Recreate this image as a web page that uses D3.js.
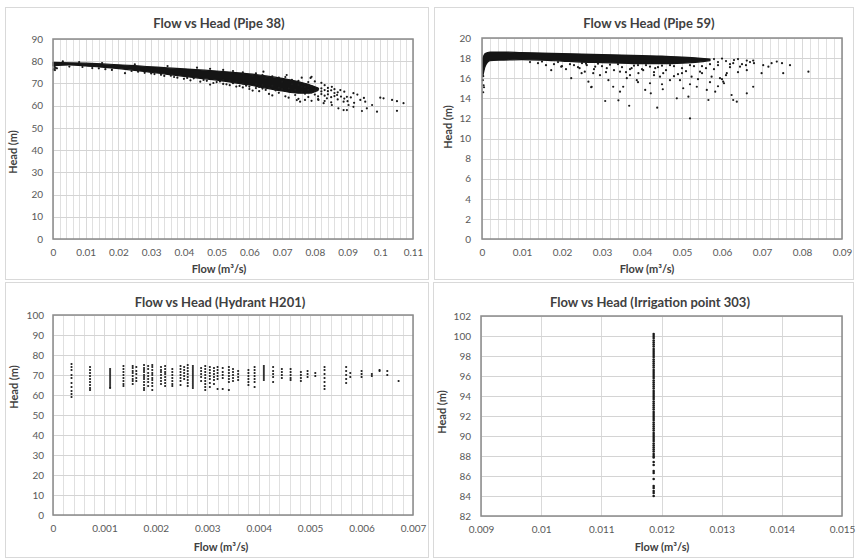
<!DOCTYPE html>
<html>
<head>
<meta charset="utf-8">
<script src="https://cdn.jsdelivr.net/npm/d3@7"></script>
<style>
  html, body { margin: 0; padding: 0; background: #fff; }
  svg { display: block; font-family: Lato, "Open Sans", sans-serif; }
</style>
</head>
<body>
<svg id="chart" width="856" height="559"></svg>
<script>
// ---------------- DATA ----------------
const titles = ["Flow vs Head (Pipe 38)", "Flow vs Head (Pipe 59)", "Flow vs Head (Hydrant H201)", "Flow vs Head (Irrigation point 303)"];
const xAxisTitle = "Flow (m³/s)";
const yAxisTitle = "Head (m)";

// tick values / labels
const pipe38XTicks = [0, 0.01, 0.02, 0.03, 0.04, 0.05, 0.06, 0.07, 0.08, 0.09, 0.1, 0.11];
const pipe38XLabels = ["0", "0.01", "0.02", "0.03", "0.04", "0.05", "0.06", "0.07", "0.08", "0.09", "0.1", "0.11"];
const pipe38YTicks = [0, 10, 20, 30, 40, 50, 60, 70, 80, 90];
const pipe59XTicks = [0, 0.01, 0.02, 0.03, 0.04, 0.05, 0.06, 0.07, 0.08, 0.09];
const pipe59XLabels = ["0", "0.01", "0.02", "0.03", "0.04", "0.05", "0.06", "0.07", "0.08", "0.09"];
const pipe59YTicks = [0, 2, 4, 6, 8, 10, 12, 14, 16, 18, 20];
const hydrantXTicks = [0, 0.001, 0.002, 0.003, 0.004, 0.005, 0.006, 0.007];
const hydrantXLabels = ["0", "0.001", "0.002", "0.003", "0.004", "0.005", "0.006", "0.007"];
const hydrantYTicks = [0, 10, 20, 30, 40, 50, 60, 70, 80, 90, 100];
const irrigXTicks = [0.009, 0.010, 0.011, 0.012, 0.013, 0.014, 0.015];
const irrigXLabels = ["0.009", "0.01", "0.011", "0.012", "0.013", "0.014", "0.015"];
const irrigYTicks = [82, 84, 86, 88, 90, 92, 94, 96, 98, 100, 102];

// Pipe 38: dense core of the cloud (flow, upper head, lower head)
const pipe38CoreFlow  = [0, 0.005, 0.01, 0.015, 0.02, 0.025, 0.03, 0.035, 0.04, 0.045, 0.05, 0.055, 0.06, 0.065, 0.07, 0.075, 0.078, 0.081];
const pipe38CoreUpper = [79.5, 79.3, 79.1, 78.8, 78.4, 78.0, 77.5, 77.0, 76.6, 76.1, 75.6, 75.0, 74.3, 73.4, 72.3, 70.8, 69.6, 67.9];
const pipe38CoreLower = [78.0, 78.3, 77.9, 77.3, 76.7, 75.9, 75.0, 74.1, 73.2, 72.3, 71.5, 70.4, 69.3, 67.9, 66.6, 65.6, 65.6, 66.9];
// Pipe 38: scattered points [flow, head]
const pipe38Points = [
  [0.0003,76.5],[0.0008,77.0],[0.0012,76.8],[0.0005,77.5],[0.0002,76.2],[0.0006,76.0],
  [0.003,79.9],[0.008,79.6],[0.015,79.2],[0.025,78.6],[0.035,77.8],
  [0.005,77.6],[0.009,77.4],[0.012,76.9],[0.014,76.8],[0.016,76.4],[0.018,76.1],[0.022,74.6],[0.024,75.6],
  [0.026,75.3],[0.028,74.8],[0.03,74.5],[0.031,74.2],[0.033,73.9],[0.034,73.4],[0.036,73.5],[0.037,72.9],
  [0.038,72.6],[0.04,72.1],[0.041,72.5],[0.042,71.4],[0.043,72.3],[0.045,70.8],[0.046,71.6],[0.047,71.2],
  [0.048,69.5],[0.049,70.2],[0.05,70.6],[0.051,70.9],[0.052,69.8],[0.053,69.6],[0.054,69.2],[0.055,70.1],
  [0.056,68.6],[0.057,68.9],[0.058,68.2],[0.059,69.0],[0.06,67.5],[0.061,66.8],[0.062,67.9],[0.063,66.5],
  [0.064,67.7],[0.066,65.3],[0.067,64.6],[0.069,65.8],[0.071,64.2],[0.072,63.6],[0.074,64.8],[0.075,63.1],
  [0.077,62.6],[0.078,63.9],[0.079,62.2],[0.081,62.9],[0.083,62.1],[0.085,61.5],
  [0.044,77.1],[0.048,76.6],[0.052,76.1],[0.055,75.6],[0.058,75.0],[0.062,74.5],[0.0643,75.3],[0.064,73.8],
  [0.067,73.2],[0.069,72.6],[0.071,72.9],[0.0714,73.8],[0.073,71.6],[0.075,71.2],[0.076,72.6],[0.078,70.6],
  [0.0787,72.5],[0.079,73.0],[0.08,70.9],[0.082,70.3],[0.083,69.2],
  [0.0745,62.5],[0.0755,61.8],[0.0811,62.6],[0.0827,61.1],[0.0837,63.3],[0.0852,68.5],[0.0852,60.3],
  [0.0868,64.8],[0.0872,58.8],[0.0878,67.0],[0.0888,58.0],[0.0888,61.8],[0.0898,64.0],[0.0898,58.0],
  [0.0903,60.3],[0.0918,65.6],[0.0918,59.5],[0.093,65.0],[0.0939,62.6],[0.0944,57.6],[0.095,63.5],
  [0.0954,61.8],[0.0959,58.8],[0.0975,60.3],[0.099,57.3],[0.1,63.6],[0.101,63.3],[0.1036,62.6],
  [0.1051,57.7],[0.1051,62.0],[0.1071,61.1],[0.084,66.5],[0.086,65.7],[0.082,67.8],[0.08,66.9],
  [0.077,68.3],[0.073,69.6],[0.07,70.8],[0.065,72.5],[0.061,73.4],
  [0.076,66.2],[0.077,65.4],[0.078,67.1],[0.079,66.0],[0.079,68.6],[0.08,65.0],[0.081,67.6],[0.081,64.2],
  [0.082,66.4],[0.082,65.2],[0.083,67.0],[0.083,64.5],[0.084,65.1],[0.084,68.0],[0.085,63.8],[0.085,66.9],
  [0.086,64.3],[0.086,67.4],[0.087,66.0],[0.087,62.8],[0.088,64.1],[0.089,66.3],[0.089,63.2],[0.09,62.0],
  [0.091,63.7],[0.092,61.3],[0.075,69.3],[0.076,68.6],[0.077,69.7],[0.078,68.9],[0.074,67.0],[0.073,66.3],
  [0.072,67.8],[0.071,66.6],[0.07,67.4],[0.069,68.1],[0.068,66.9],[0.067,69.0],[0.066,68.0],[0.065,67.1],
  [0.064,69.3],[0.063,68.4],[0.062,69.6],[0.06,68.6],[0.058,70.0],[0.056,70.6],[0.054,71.3],[0.052,71.6]
];

// Pipe 59: dense core
const pipe59CoreFlow  = [0.0002, 0.0008, 0.002, 0.005, 0.01, 0.015, 0.02, 0.025, 0.03, 0.035, 0.04, 0.045, 0.05, 0.054, 0.057];
const pipe59CoreUpper = [18.0, 18.45, 18.6, 18.6, 18.55, 18.5, 18.45, 18.4, 18.35, 18.3, 18.25, 18.2, 18.1, 18.0, 17.9];
const pipe59CoreLower = [16.2, 17.2, 17.75, 17.8, 17.85, 17.8, 17.7, 17.6, 17.55, 17.5, 17.45, 17.45, 17.5, 17.6, 17.75];
// Pipe 59: scattered points
const pipe59Points = [
  [0.0003,14.6],[0.0004,15.3],[0.0002,15.8],[0.0005,15.1],[0.0003,16.2],
  [0.0308,13.73],[0.0341,13.8],[0.0368,13.26],[0.0438,13.07],[0.052,12.0],[0.0274,15.15],[0.0266,15.65],
  [0.0345,14.66],[0.0353,15.15],[0.0387,15.8],[0.0408,14.83],[0.0422,14.5],[0.0452,14.9],[0.0487,14.0],
  [0.0516,14.16],[0.0566,13.83],[0.0628,13.83],[0.0637,13.66],[0.0624,14.33],[0.0662,14.5],[0.0678,15.15],
  [0.0603,15.65],[0.0583,14.66],[0.0562,14.83],[0.0537,15.15],[0.0503,15.0],[0.047,15.8],[0.0445,16.15],
  [0.042,15.5],[0.0391,16.5],[0.0362,16.0],[0.0328,15.15],[0.0316,15.8],[0.0295,16.3],[0.0257,16.65],
  [0.0278,16.5],[0.0703,17.3],[0.0716,17.15],[0.0753,16.5],[0.077,17.3],[0.0816,16.65],[0.0724,17.5],
  [0.0678,17.75],[0.0699,16.5],[0.0662,16.8],[0.0645,17.15],[0.0612,16.5],[0.0595,16.0],[0.0574,16.15],
  [0.0545,16.65],[0.0524,16.15],[0.0495,15.8],[0.0453,16.5],[0.0433,17.0],[0.0403,16.8],[0.0374,17.0],
  [0.0345,16.65],[0.0312,17.0],[0.0283,17.15],[0.0262,17.3],[0.0249,16.5],[0.0737,17.65],[0.075,17.5],
  [0.0628,17.5],[0.0662,17.75],[0.0173,16.8],[0.0223,16.0],[0.0273,15.1],[0.0244,17.0],[0.0198,17.15],
  [0.012,17.6],[0.014,17.5],[0.016,17.3],[0.018,17.4],[0.02,17.2],[0.021,16.9],[0.023,17.3],
  [0.022,17.4],[0.024,17.1],[0.026,17.45],[0.028,16.9],[0.03,17.2],[0.032,17.35],[0.033,16.8],[0.035,17.1],
  [0.036,16.6],[0.038,17.25],[0.04,16.9],[0.041,17.3],[0.043,16.6],[0.044,17.1],[0.046,16.8],[0.047,17.3],
  [0.049,16.4],[0.05,17.0],[0.051,16.7],[0.053,17.2],[0.055,16.5],[0.056,17.0],[0.058,16.9],[0.059,17.3],
  [0.061,16.3],[0.062,17.1],[0.064,16.6],[0.065,17.4],[0.06,15.9],[0.057,15.6],[0.054,15.9],[0.048,16.2],
  [0.039,15.6],[0.037,16.3],[0.045,15.4],[0.052,15.4],[0.059,15.2],[0.0605,15.5],[0.063,17.8],[0.067,17.6],
  [0.058,17.9],[0.059,17.6],[0.06,17.95],[0.061,17.7],[0.062,17.4],[0.064,17.9],[0.066,17.3],[0.068,17.5],
  [0.057,17.4],[0.055,17.2],[0.052,17.3],[0.048,17.2],[0.045,17.25],[0.042,17.15],[0.039,17.3],[0.034,17.4],
  [0.029,17.45],[0.025,17.5],[0.019,17.6],[0.015,17.65],[0.031,16.6],[0.037,16.9],[0.043,16.3],[0.05,16.5]
];

// Hydrant H201: flows of the point columns and the heads observed in each
const hydrantFlows = [0.00036, 0.00072, 0.00111, 0.00137, 0.00155, 0.00162, 0.00177, 0.00185, 0.00193, 0.0021,
  0.00218, 0.00232, 0.00248, 0.00255, 0.00262, 0.00272, 0.00288, 0.00296, 0.00305, 0.00313, 0.0032, 0.0033,
  0.00342, 0.0035, 0.0036, 0.0038, 0.00392, 0.0041, 0.00428, 0.00445, 0.00462, 0.00482, 0.00495, 0.0051,
  0.00528, 0.0057, 0.00578, 0.006, 0.0062, 0.00635, 0.0065, 0.00672];
const hydrantHeads = [
  [75.5,74,72.5,70,68.5,66,64,62,60.5,59],
  [74,72.5,71,69.5,68,66.5,65,63.5,62.5],
  [73,72,71,70,69,68,67,66,65,64,63.5],
  [74.5,73,71.5,70,68.5,67,65.5,64.5],
  [74.5,73.5,72,71,69.5,68,67,65.5],
  [74,72,70.5,68.5,67],
  [75,73.5,72.5,71.5,70,69,68,66.5,65,63.5,62.5],
  [74.5,73,71,69.5,68,66.5,64.5],
  [75,74,72.5,71,70,68.5,67.5,66,64.5,62.5],
  [74,72.5,71.5,70,68.5,67,65.5],
  [74.5,73,71.5,70.5,69,67.5,66,64.5],
  [73,71.5,70,68.5,67,65.5,64.5],
  [74.5,73,71.5,70,68.5,67,65],
  [74,72.5,71,69.5,68],
  [75,73.5,72,70.5,69,67.5,66,64.5],
  [74.5,73.5,72.5,71.5,70.5,69.5,68.5,67.5,66.5,65.5,64.5,63.5],
  [73.5,72,70.5,69,67],
  [74.5,73,71.5,70,68.5,67,65.5,64,62.5],
  [74,72.5,71,69.5,68,66,64],
  [73.5,72,70.5,69,67.5,65.5],
  [74,72.5,71,69.5,68,63],
  [73.5,71.5,70,68.5,63],
  [74,72.5,71,69.5,68,66.5,62.5],
  [73,71.5,70,68.5,67],
  [72,70.5,69,67.5],
  [72.5,71,69.5,68,66.5,65],
  [74,72.5,71,69.5,68,66.5,64],
  [74.5,73.5,72.5,71.5,70.5,69.5,68.5,67.5],
  [74,72,70.5,69,66.5],
  [73,71.5,70,68.5],
  [73,71.5,70,68.5,67.5],
  [71.5,70,68.5,67],
  [72,70.5,69],
  [71,69.5],
  [74,72.5,70.5,68.5,66.5,64.5,63],
  [74,72,70,68,66],
  [71,69],
  [72,70.5,69],
  [70.5,69.5],
  [72.5,72],
  [72,70],
  [67]
];

// Irrigation point 303: a single flow with many heads
const irrigFlow = 0.01187;
const irrigHeads = [100.2,100.0,99.8,99.55,99.35,99.15,98.95,98.7,98.5,98.3,98.1,97.9,97.65,97.45,97.25,97.05,96.85,
  96.6,96.4,96.2,96.0,95.8,95.55,95.35,95.15,94.95,94.75,94.5,94.3,94.1,93.9,93.7,93.45,93.25,93.05,92.85,92.65,
  92.4,92.2,92.0,91.8,91.6,91.35,91.15,90.95,90.75,90.55,90.3,90.1,89.9,89.7,89.5,89.25,89.05,88.85,88.65,88.45,
  88.2,88.0,87.85,87.4,87.1,86.5,86.3,85.7,85.0,84.8,84.5,84.3,84.0];

// ---------------- DRAWING ----------------
const svg = d3.select("#chart");
const fmtTick = d => String(+d.toFixed(6));

function drawPanel(cfg) {
  const g = svg.append("g");
  g.append("rect").attr("x", cfg.area[0] + 0.5).attr("y", cfg.area[1] + 0.5)
    .attr("width", cfg.area[2] - cfg.area[0]).attr("height", cfg.area[3] - cfg.area[1])
    .attr("fill", "#fff").attr("stroke", "#d9d9d9").attr("stroke-width", 1);

  const x = d3.scaleLinear().domain(cfg.xDomain).range([cfg.plot[0], cfg.plot[1]]);
  const y = d3.scaleLinear().domain(cfg.yDomain).range([cfg.plot[3], cfg.plot[2]]);

  if (cfg.xMinor) {
    const n = Math.round((cfg.xDomain[1] - cfg.xDomain[0]) / cfg.xMinor);
    const minor = d3.range(n + 1).map(i => cfg.xDomain[0] + i * cfg.xMinor);
    g.append("g").selectAll("line").data(minor).join("line")
      .attr("x1", d => Math.round(x(d)) + 0.5).attr("x2", d => Math.round(x(d)) + 0.5)
      .attr("y1", cfg.plot[2]).attr("y2", cfg.plot[3])
      .attr("stroke", "#e0e0e0").attr("stroke-width", 1);
  }
  g.append("g").selectAll("line").data(cfg.xTicks).join("line")
    .attr("x1", d => Math.round(x(d)) + 0.5).attr("x2", d => Math.round(x(d)) + 0.5)
    .attr("y1", cfg.plot[2]).attr("y2", cfg.plot[3])
    .attr("stroke", "#d9d9d9").attr("stroke-width", 1);
  g.append("g").selectAll("line").data(cfg.yTicks).join("line")
    .attr("x1", cfg.plot[0]).attr("x2", cfg.plot[1])
    .attr("y1", d => Math.round(y(d)) + 0.5).attr("y2", d => Math.round(y(d)) + 0.5)
    .attr("stroke", "#d4d4d4").attr("stroke-width", 1);

  const marks = g.append("g");
  if (cfg.core) {
    const rows = cfg.core.flow.map((f, i) => ({ f, hi: cfg.core.upper[i], lo: cfg.core.lower[i] }));
    marks.append("path").datum(rows)
      .attr("d", d3.area().x(d => x(d.f)).y0(d => y(d.lo)).y1(d => y(d.hi)).curve(d3.curveMonotoneX))
      .attr("fill", "#151515").attr("stroke", "#151515").attr("stroke-width", 1.2).attr("stroke-linejoin", "round");
  }
  marks.selectAll("circle").data(cfg.points).join("circle")
    .attr("cx", d => x(d[0])).attr("cy", d => y(d[1])).attr("r", cfg.r || 1.2)
    .attr("fill", "#1a1a1a");

  g.append("rect").attr("x", cfg.plot[0]).attr("y", cfg.plot[2])
    .attr("width", cfg.plot[1] - cfg.plot[0]).attr("height", cfg.plot[3] - cfg.plot[2])
    .attr("fill", "none").attr("stroke", "#8a8a8a").attr("stroke-width", 1.5);

  const xAxis = d3.axisBottom(x).tickValues(cfg.xTicks).tickSize(0).tickPadding(10)
    .tickFormat((d, i) => cfg.xLabels[i]);
  const xa = g.append("g").attr("transform", `translate(0,${cfg.plot[3]})`).call(xAxis);
  const yAxis = d3.axisLeft(y).tickValues(cfg.yTicks).tickSize(0).tickPadding(cfg.yPad)
    .tickFormat(fmtTick);
  const ya = g.append("g").attr("transform", `translate(${cfg.plot[0]},0)`).call(yAxis);
  [xa, ya].forEach(a => {
    a.select(".domain").remove();
    a.selectAll("text").attr("fill", "#595959").style("font-size", "10px")
      .style("font-family", "Lato, 'Open Sans', sans-serif");
  });

  g.append("text").attr("x", cfg.titlePos[0]).attr("y", cfg.titlePos[1])
    .attr("text-anchor", "middle").attr("fill", "#404040")
    .style("font-size", "13px").style("font-weight", "bold").text(cfg.title);
  g.append("text").attr("x", cfg.xTitlePos[0]).attr("y", cfg.xTitlePos[1])
    .attr("text-anchor", "middle").attr("fill", "#404040")
    .style("font-size", "11px").style("font-weight", "bold").text(xAxisTitle);
  g.append("text").attr("transform", `translate(${cfg.yTitlePos[0]},${cfg.yTitlePos[1]}) rotate(-90)`)
    .attr("text-anchor", "middle").attr("fill", "#404040")
    .style("font-size", "11px").style("font-weight", "bold").text(yAxisTitle);
}

drawPanel({
  area: [5, 7, 428, 279], plot: [53, 413, 39, 239],
  xDomain: [0, 0.11], yDomain: [0, 90], xMinor: 0.002,
  xTicks: pipe38XTicks, xLabels: pipe38XLabels, yTicks: pipe38YTicks, yPad: 10,
  core: { flow: pipe38CoreFlow, upper: pipe38CoreUpper, lower: pipe38CoreLower },
  points: pipe38Points, r: 1.1, title: titles[0],
  titlePos: [219, 28], xTitlePos: [219, 273], yTitlePos: [17, 152]
});
drawPanel({
  area: [434, 7, 853, 279], plot: [482, 842, 38, 239],
  xDomain: [0, 0.09], yDomain: [0, 20], xMinor: 0.002,
  xTicks: pipe59XTicks, xLabels: pipe59XLabels, yTicks: pipe59YTicks, yPad: 11,
  core: { flow: pipe59CoreFlow, upper: pipe59CoreUpper, lower: pipe59CoreLower },
  points: pipe59Points, r: 1.1, title: titles[1],
  titlePos: [649, 28], xTitlePos: [647, 273], yTitlePos: [452, 127]
});
const hydrantPoints = hydrantFlows.flatMap((f, i) => hydrantHeads[i].map(h => [f, h]));
drawPanel({
  area: [5, 282, 428, 557], plot: [53, 413, 315, 515],
  xDomain: [0, 0.007], yDomain: [0, 100], xMinor: 0.0002,
  xTicks: hydrantXTicks, xLabels: hydrantXLabels, yTicks: hydrantYTicks, yPad: 9,
  points: hydrantPoints, r: 1.1, title: titles[2],
  titlePos: [220, 307], xTitlePos: [221, 551], yTitlePos: [18, 387]
});
const irrigPoints = irrigHeads.map(h => [irrigFlow, h]);
drawPanel({
  area: [433, 282, 853, 557], plot: [481, 842, 316, 516],
  xDomain: [0.009, 0.015], yDomain: [82, 102], xMinor: null,
  xTicks: irrigXTicks, xLabels: irrigXLabels, yTicks: irrigYTicks, yPad: 10,
  points: irrigPoints, r: 1.3, title: titles[3],
  titlePos: [650, 307], xTitlePos: [662, 551], yTitlePos: [446, 412]
});
</script>
</body>
</html>
